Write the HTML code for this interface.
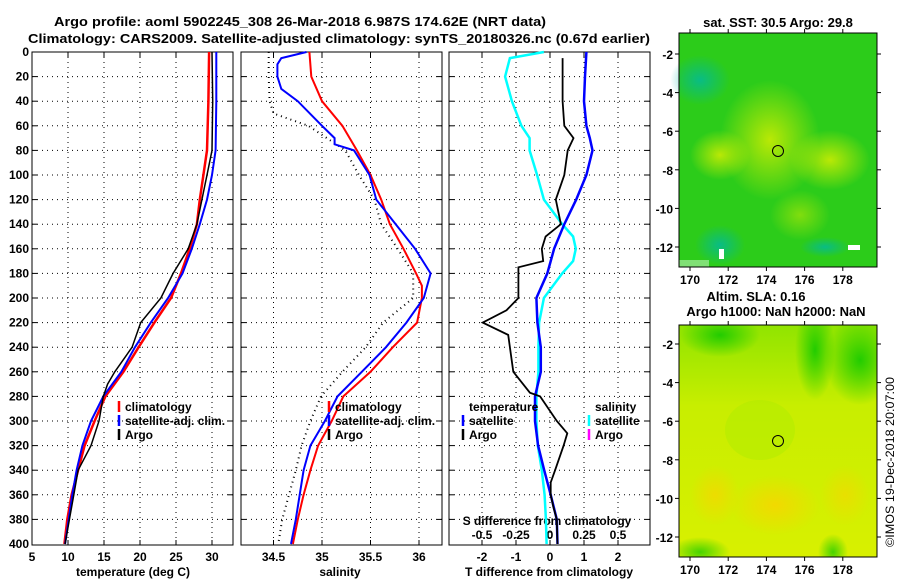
<!DOCTYPE html>
<html><head><meta charset="utf-8"><style>
body{margin:0;background:#fff;}
svg{display:block;font-family:"Liberation Sans",sans-serif;}
.t{font-size:13px;font-weight:bold;fill:#000;}
.tk{font-size:12px;font-weight:bold;fill:#000;}
.lg{font-size:12px;font-weight:bold;fill:#000;}
</style></head><body>
<svg id="c" width="900" height="580" viewBox="0 0 900 580">
<defs>
<radialGradient id="g1" cx="0.5" cy="0.5" r="0.5"><stop offset="0" stop-color="#ddf000" stop-opacity="0.8"/><stop offset="1" stop-color="#ddf000" stop-opacity="0"/></radialGradient>
<radialGradient id="g2" cx="0.5" cy="0.5" r="0.5"><stop offset="0" stop-color="#ffd000"/><stop offset="1" stop-color="#ffd000" stop-opacity="0"/></radialGradient>
<radialGradient id="g3" cx="0.5" cy="0.5" r="0.5"><stop offset="0" stop-color="#22cc00"/><stop offset="1" stop-color="#22cc00" stop-opacity="0"/></radialGradient>
<radialGradient id="g4" cx="0.5" cy="0.5" r="0.5"><stop offset="0" stop-color="#00b8a0" stop-opacity="0.8"/><stop offset="1" stop-color="#00b8a0" stop-opacity="0"/></radialGradient>
<linearGradient id="lg1" x1="0" y1="0" x2="0" y2="1"><stop offset="0" stop-color="#90e400"/><stop offset="0.35" stop-color="#c8ee00"/><stop offset="1" stop-color="#d8f000"/></linearGradient>
</defs>
<text class="t" x="54" y="26" textLength="492" lengthAdjust="spacingAndGlyphs">Argo profile: aoml 5902245_308 26-Mar-2018 6.987S 174.62E (NRT data)</text>
<text class="t" x="28" y="43" textLength="622" lengthAdjust="spacingAndGlyphs">Climatology: CARS2009. Satellite-adjusted climatology: synTS_20180326.nc (0.67d earlier)</text>
<g id="plots"></g>

<g>
<text class="t" x="778" y="27" text-anchor="middle">sat. SST: 30.5 Argo: 29.8</text>
<rect x="679" y="33" width="198" height="234" fill="#2ccc1a"/>
<ellipse cx="770" cy="140" rx="50" ry="60" fill="url(#g1)"/>
<ellipse cx="830" cy="160" rx="40" ry="30" fill="url(#g1)"/>
<ellipse cx="720" cy="155" rx="30" ry="25" fill="url(#g1)"/>
<ellipse cx="800" cy="215" rx="30" ry="25" fill="url(#g1)" opacity="0.6"/>
<ellipse cx="700" cy="80" rx="30" ry="25" fill="url(#g4)"/>
<ellipse cx="720" cy="245" rx="25" ry="20" fill="url(#g4)"/>
<ellipse cx="825" cy="247" rx="25" ry="10" fill="url(#g4)"/>
<rect x="848" y="245" width="12" height="5" fill="#fff"/>
<rect x="719" y="249" width="5" height="10" fill="#fff"/>
<rect x="679" y="260" width="30" height="7" fill="#fff" opacity="0.4"/>
<circle cx="778" cy="151" r="5.5" fill="none" stroke="#000" stroke-width="1"/>
<rect x="679" y="33" width="198" height="234" fill="none" stroke="#000" stroke-width="1"/>
</g>
<g id="map1ax"></g>

<g>
<text class="t" x="756" y="301" text-anchor="middle">Altim. SLA: 0.16</text>
<text class="t" x="776" y="316" text-anchor="middle">Argo h1000: NaN h2000: NaN</text>
<svg x="679" y="325" width="198" height="232" overflow="hidden">
<rect x="0" y="0" width="198" height="232" fill="url(#lg1)"/>
<ellipse cx="41" cy="10" rx="40" ry="22" fill="url(#g3)"/>
<ellipse cx="136" cy="25" rx="20" ry="50" fill="url(#g3)"/>
<ellipse cx="181" cy="35" rx="35" ry="45" fill="url(#g3)"/>
<ellipse cx="81" cy="105" rx="35" ry="30" fill="#b0ec00" opacity="0.5"/>
<ellipse cx="96" cy="180" rx="45" ry="30" fill="url(#g2)" opacity="0.7"/>
<ellipse cx="36" cy="170" rx="25" ry="30" fill="url(#g2)" opacity="0.6"/>
<ellipse cx="166" cy="170" rx="25" ry="30" fill="url(#g2)" opacity="0.5"/>
<ellipse cx="21" cy="227" rx="30" ry="15" fill="url(#g3)" opacity="0.8"/>
<ellipse cx="154" cy="227" rx="15" ry="18" fill="url(#g3)" opacity="0.8"/>
</svg>
<circle cx="778" cy="441" r="5.5" fill="none" stroke="#000" stroke-width="1"/>
<rect x="679" y="325" width="198" height="232" fill="none" stroke="#000" stroke-width="1"/>
</g>
<g id="map2ax"></g>
<text class="tk" transform="translate(894,547) rotate(-90)" style="font-weight:normal" textLength="170" lengthAdjust="spacingAndGlyphs">©IMOS 19-Dec-2018 20:07:00</text>
</svg>
<script>
var depthTicks=[0,20,40,60,80,100,120,140,160,180,200,220,240,260,280,300,320,340,360,380,400];
var tempTicks=[5,10,15,20,25,30];
var salTicks=[34.5,35,35.5,36];
var tdTicks=[-2,-1,0,1,2];
var sdTickLabels=["-0.5","-0.25","0","0.25","0.5"];
var sdTicks=[-0.5,-0.25,0,0.25,0.5];

var tClimDepth=[0,40,80,100,120,140,160,180,200,220,240,260,280,300,320,340,360,380,400];
var tClim=[29.6,29.5,29.3,28.8,28.3,27.9,26.9,25.7,24.3,22.0,19.8,17.7,15.2,13.7,12.3,11.4,10.5,9.9,9.5];
var tSatDepth=[0,40,80,100,120,140,160,180,200,220,240,260,280,300,320,340,360,380,400];
var tSat=[30.6,30.6,30.5,30.0,29.3,28.3,27.2,25.9,23.9,21.5,19.3,17.4,14.9,13.2,12.0,11.2,10.6,10.1,9.6];
var tArgoDepth=[0,40,80,100,120,140,160,180,200,220,240,260,270,280,300,320,340,360,380,400];
var tArgo=[30.0,30.1,30.0,29.3,28.6,27.9,26.7,24.6,22.9,20.1,18.9,16.5,15.5,14.9,14.3,13.2,11.4,10.8,10.2,9.6];

var sClimDepth=[0,20,40,60,80,100,120,140,160,180,190,200,220,240,260,280,300,320,340,360,380,400];
var sClim=[34.87,34.89,35.0,35.21,35.36,35.5,35.61,35.70,35.84,35.97,36.03,36.03,35.98,35.73,35.5,35.22,35.10,34.96,34.88,34.81,34.75,34.70];
var sSatDepth=[0,5,10,20,30,40,60,70,75,80,100,120,140,160,180,200,220,240,260,280,300,320,340,360,380,400];
var sSat=[34.84,34.58,34.54,34.54,34.58,34.75,35.0,35.13,35.13,35.33,35.49,35.56,35.76,35.96,36.12,36.05,35.87,35.66,35.41,35.16,35.03,34.88,34.81,34.77,34.73,34.68];
var sArgoDepth=[0,20,40,50,60,80,100,120,140,160,180,200,220,240,260,280,300,320,340,360,380,400];
var sArgo=[34.45,34.45,34.46,34.5,34.86,35.24,35.38,35.54,35.61,35.78,35.94,35.94,35.63,35.45,35.21,34.99,34.88,34.79,34.73,34.66,34.59,34.55];

var dTDepth=[0,20,40,60,70,80,100,120,140,160,180,200,220,240,260,280,300,320,340,360,380,400];
var dTSat=[1.07,1.03,1.0,1.07,1.17,1.25,1.07,0.77,0.42,0.12,-0.08,-0.4,-0.37,-0.27,-0.27,-0.44,-0.44,-0.35,-0.17,0.02,0.2,0.22];
var dTArgoDepth=[5,20,40,60,70,80,100,120,140,150,160,170,175,200,210,220,230,240,260,277,280,300,310,320,340,350,360,370,380,400];
var dTArgo=[0.37,0.37,0.37,0.42,0.69,0.52,0.42,0.17,0.32,-0.13,-0.24,-0.2,-0.93,-0.93,-1.28,-1.98,-1.23,-1.18,-1.08,-0.59,-0.29,0.2,0.51,0.4,0.15,0.02,0.02,0.1,0.2,0.22];
var dSDepth=[0,5,20,40,60,70,80,100,120,140,150,160,170,180,200,220,240,260,280,300,320,340,360,380,400];
var dSSat=[-0.045,-0.295,-0.33,-0.28,-0.21,-0.15,-0.15,-0.095,-0.045,0.09,0.17,0.19,0.17,0.09,-0.045,-0.08,-0.085,-0.085,-0.1,-0.1,-0.09,-0.06,-0.04,-0.03,-0.025];

var mapLonTicks=[170,172,174,176,178];
var mapLatTicks=[-2,-4,-6,-8,-10,-12];

var Y0=52, YS=1.23;
function yD(d){return Y0+d*YS;}
function xT(t){return 32+(t-5)*7.2;}
function xS(s){return 322+(s-35)*97;}
function xTd(v){return 550+v*34;}
function xSd(v){return 550+v*136;}
var NS="http://www.w3.org/2000/svg";
var G=document.getElementById('plots');
function mk(tag,at,par){var e=document.createElementNS(NS,tag);for(var k in at)e.setAttribute(k,at[k]);(par||G).appendChild(e);return e;}

var panels=[{x0:32,x1:233,name:'temperature-panel'},{x0:241,x1:442,name:'salinity-panel'},{x0:449,x1:650,name:'difference-panel'}];
panels.forEach(function(p){
  var g=mk('g',{});
  
  
  p.g=g;
  depthTicks.forEach(function(d){
    if(d>0&&d<400){var l=mk('line',{x1:p.x0,x2:p.x1,y1:yD(d),y2:yD(d),stroke:'#000','stroke-width':1,'stroke-dasharray':'1,4'},g);
      
      
      mk('line',{x1:p.x0,x2:p.x0+5,y1:yD(d),y2:yD(d),stroke:'#000'},g);mk('line',{x1:p.x1-5,x2:p.x1,y1:yD(d),y2:yD(d),stroke:'#000'},g);}
  });
});
depthTicks.forEach(function(d){
  var t=mk('text',{x:29,y:yD(d)+4,'text-anchor':'end','class':'tk'});t.textContent=d;
  
  
});
function vgrid(p,vals,labels,fn){
  vals.forEach(function(v,i){var x=fn(v);
    if(x>p.x0+1&&x<p.x1-1){mk('line',{x1:x,x2:x,y1:Y0,y2:545,stroke:'#000','stroke-dasharray':'1,4'},p.g);}
    mk('line',{x1:x,x2:x,y1:Y0,y2:Y0+5,stroke:'#000'},p.g);mk('line',{x1:x,x2:x,y1:540,y2:545,stroke:'#000'},p.g);
    var t=mk('text',{x:x,y:561,'text-anchor':'middle','class':'tk'});t.textContent=labels[i];
    
    
  });
}
vgrid(panels[0],tempTicks,tempTicks,xT);
vgrid(panels[1],salTicks,salTicks,xS);
vgrid(panels[2],tdTicks,tdTicks,xTd);
sdTicks.forEach(function(v,i){
  var t=mk('text',{x:xSd(v),y:539,'text-anchor':'middle','class':'tk'});
  t.textContent=sdTickLabels[i];
  
  
});
[['temperature (deg C)',133,'x-axis-title-temperature'],['salinity',340,'x-axis-title-salinity'],['T difference from climatology',549,'x-axis-title-t-difference']].forEach(function(a){
  var t=mk('text',{x:a[1],y:576,'text-anchor':'middle','class':'tk'});t.textContent=a[0];
  
  
});
var st=mk('text',{x:547,y:525,'text-anchor':'middle','class':'tk'});st.textContent='S difference from climatology';



function line(depths,vals,fx,color,w,dash,name){
  var pts=depths.map(function(d,i){return fx(vals[i]).toFixed(1)+','+yD(d).toFixed(1);}).join(' ');
  var e=mk('polyline',{points:pts,fill:'none',stroke:color,'stroke-width':w});
  if(dash)e.setAttribute('stroke-dasharray',dash);
  
  
}
line(tClimDepth,tClim,xT,'#ff0000',2.5,null,'temperature-climatology-line');
line(tSatDepth,tSat,xT,'#0000ff',2,null,'temperature-satellite-line');
line(tArgoDepth,tArgo,xT,'#000',1.5,null,'temperature-argo-line');
line(sArgoDepth,sArgo,xS,'#000',2,'1,4','salinity-argo-line');
line(sClimDepth,sClim,xS,'#ff0000',2,null,'salinity-climatology-line');
line(sSatDepth,sSat,xS,'#0000ff',2,null,'salinity-satellite-line');
line(dSDepth,dSSat,xSd,'#00ffff',2.5,null,'s-diff-satellite-line');
line(dTDepth,dTSat,xTd,'#0000ff',2.5,null,'t-diff-satellite-line');
line(dTArgoDepth,dTArgo,xTd,'#000',1.8,null,'t-diff-argo-line');

panels.forEach(function(p){mk('rect',{x:p.x0,y:Y0,width:p.x1-p.x0,height:545-Y0,fill:'none',stroke:'#000','stroke-width':1},p.g);});

function leg(x,y,color,txt,name){
  mk('line',{x1:x,x2:x,y1:y-6,y2:y+5,stroke:color,'stroke-width':2.5});
  var t=mk('text',{x:x+6,y:y+4,'class':'lg'});t.textContent=txt;
  
  
}
leg(119,407,'#ff0000','climatology','legend-climatology');
leg(119,421,'#0000ff','satellite-adj. clim.','legend-satellite-adj');
leg(119,435,'#000','Argo','legend-argo');
leg(329,407,'#ff0000','climatology','legend-sal-climatology');
leg(329,421,'#0000ff','satellite-adj. clim.','legend-sal-satellite-adj');
leg(329,435,'#000','Argo','legend-sal-argo');
var lt=mk('text',{x:469,y:411,'class':'lg'});lt.textContent='temperature';


var ls=mk('text',{x:595,y:411,'class':'lg'});ls.textContent='salinity';


leg(463,421,'#0000ff','satellite','legend-t-satellite');
leg(463,435,'#000','Argo','legend-t-argo');
leg(589,421,'#00ffff','satellite','legend-s-satellite');
leg(589,435,'#ff00ff','Argo','legend-s-argo');

function mapAxes(gid,top,bot,latY0,latStep){
  var g=document.getElementById(gid);
  mapLonTicks.forEach(function(lon){var x=690+(lon-170)*19.1;
    mk('line',{x1:x,x2:x,y1:top-4,y2:top,stroke:'#000'},g);mk('line',{x1:x,x2:x,y1:bot,y2:bot+4,stroke:'#000'},g);
    var t=mk('text',{x:x,y:bot+17,'text-anchor':'middle','class':'tk'},g);t.textContent=lon;
    
    
  });
  mapLatTicks.forEach(function(lat){var y=latY0+(-2-lat)*latStep;
    mk('line',{x1:675,x2:679,y1:y,y2:y,stroke:'#000'},g);mk('line',{x1:877,x2:881,y1:y,y2:y,stroke:'#000'},g);
    var t=mk('text',{x:673,y:y+5,'text-anchor':'end','class':'tk'},g);t.textContent=lat;
    
    
  });
}
mapAxes('map1ax',33,267,54,19.3);
mapAxes('map2ax',325,557,344,19.3);
</script>
</body></html>
